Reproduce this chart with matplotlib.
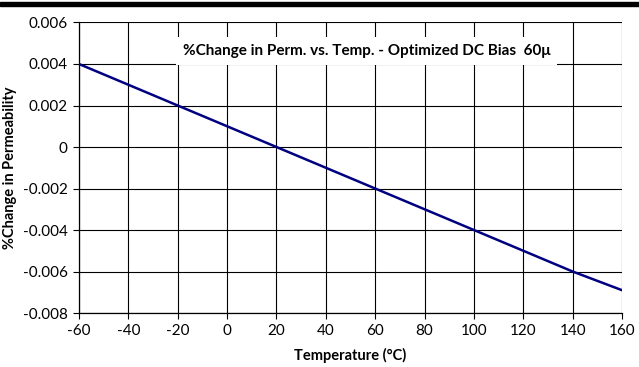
import matplotlib.pyplot as plt
from matplotlib.patches import Rectangle

# Datos
temps = [-60, -40, -20, 0, 20, 40, 60, 80, 100, 120, 140, 160]
change = [0.004, 0.003, 0.002, 0.001, 0.0, -0.001, -0.002, -0.003,
          -0.004, -0.005, -0.006, -0.0069]

x_ticks = [-60, -40, -20, 0, 20, 40, 60, 80, 100, 120, 140, 160]
y_ticks = [-0.008, -0.006, -0.004, -0.002, 0, 0.002, 0.004, 0.006]
y_labels = ["-0.008", "-0.006", "-0.004", "-0.002", "0", "0.002", "0.004", "0.006"]

title = "%Change in Perm. vs. Temp. - Optimized DC Bias  60\u03bc"

plt.rcParams['font.family'] = ['Lato', 'DejaVu Sans']
plt.rcParams['axes.unicode_minus'] = False

fig = plt.figure(figsize=(6.39, 3.67), dpi=100)
ax = fig.add_axes([0.1236, 0.1471, 0.8498, 0.7916])

# Barra negra superior
fig.patches.append(Rectangle((0, 0.984), 1, 0.011, transform=fig.transFigure,
                             color="black", zorder=5))

ax.plot(temps, change, color="#000080", linewidth=1.8, zorder=4)

ax.set_xlim(-60, 160)
ax.set_ylim(-0.008, 0.006)
ax.set_xticks(x_ticks)
ax.set_xticklabels([str(t) for t in x_ticks])
ax.set_yticks(y_ticks)
ax.set_yticklabels(y_labels)
ax.grid(True, color="black", linewidth=0.8)
ax.set_axisbelow(True)

for side in ["top", "right"]:
    ax.spines[side].set_visible(False)
for side in ["left", "bottom"]:
    ax.spines[side].set_linewidth(0.9)

ax.tick_params(direction="out", length=4, width=0.8, labelsize=11, pad=4)

ax.set_xlabel("Temperature (\u00b0C)", fontsize=10.5, fontweight="bold", labelpad=7)
ax.set_ylabel("%Change in Permeability", fontsize=10.5, fontweight="bold", labelpad=4)

ax.text(0.53, 0.903, title, transform=ax.transAxes, ha="center", va="center",
        fontsize=11, fontweight="bold", zorder=3,
        bbox=dict(facecolor="white", edgecolor="none", pad=5))

fig.savefig("out.png", dpi=100)
